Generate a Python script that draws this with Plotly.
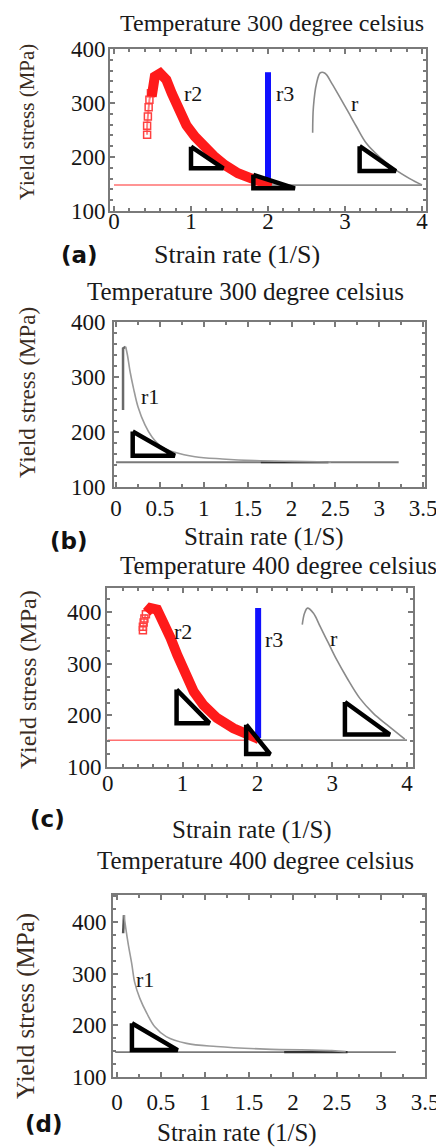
import plotly.graph_objects as go

W, H = 444, 1147
PAGE_OFFSET = 8  # the page body margin shifts the figure by this many pixels

# ---------------- data ----------------
# Panel (a) 300 C
a_r2_rise_x = [0.43, 0.43, 0.44, 0.45, 0.46, 0.48]
a_r2_rise_y = [241, 258, 275, 292, 306, 318]
a_r2_x = [0.49, 0.53, 0.60, 0.68, 0.75, 0.84, 0.94, 1.05, 1.18, 1.31, 1.44, 1.61, 1.79, 1.96, 2.05]
a_r2_y = [312, 349, 355, 343, 318, 287, 259, 238, 216, 200, 185, 170, 160, 151, 148]
a_r3_x = [2.0, 2.0]
a_r3_y = [157, 357]
a_r_x = [2.58, 2.59, 2.63, 2.68, 2.74, 2.83, 2.94, 3.04, 3.15, 3.28, 3.45, 3.63, 3.84, 4.0]
a_r_y = [245, 293, 336, 356, 355, 336, 309, 284, 256, 225, 200, 179, 160, 148]
a_red_base_x = [0.0, 1.9]
a_red_base_y = [148, 148]
a_gray_base_x = [2.0, 4.0]
a_gray_base_y = [148, 148]
a_tri = [([1.0, 1.0, 1.42, 1.0], [219, 179, 179, 219]),
         ([1.81, 1.81, 2.35, 1.81], [167, 142, 142, 167]),
         ([3.19, 3.19, 3.66, 3.19], [220, 174, 174, 220])]
a_lbl_x = [1.03, 2.22, 3.13]
a_lbl_y = [318, 318, 299]
a_lbl_t = ["r2", "r3", "r"]

# Panel (b) 300 C
b_rise_x = [0.08, 0.08, 0.11]
b_rise_y = [240, 352, 355]
b_r1_x = [0.11, 0.13, 0.16, 0.20, 0.25, 0.33, 0.41, 0.52, 0.67, 0.90, 1.21, 1.58, 2.0, 2.45]
b_r1_y = [355, 340, 310, 279, 246, 213, 191, 173, 163, 155, 151, 148, 146.5, 145.5]
b_base_x = [0.0, 3.22]
b_base_y = [145, 145]
b_dark_x = [1.65, 2.42]
b_dark_y = [145, 145]
b_tri = [([0.19, 0.19, 0.67, 0.19], [201, 157, 157, 201])]
b_lbl_x = [0.39]
b_lbl_y = [264]
b_lbl_t = ["r1"]

# Panel (c) 400 C
c_r2_rise_x = [0.47, 0.47, 0.48, 0.49, 0.51]
c_r2_rise_y = [365, 372, 380, 388, 396]
c_r2_x = [0.52, 0.57, 0.66, 0.75, 0.84, 0.93, 1.04, 1.15, 1.28, 1.46, 1.68, 1.91, 2.02]
c_r2_y = [400, 408, 405, 382, 350, 317, 279, 246, 220, 195, 175, 159, 154]
c_r3_x = [2.01, 2.01]
c_r3_y = [156, 408]
c_r_x = [2.60, 2.63, 2.67, 2.75, 2.84, 2.95, 3.06, 3.20, 3.37, 3.55, 3.73, 3.97]
c_r_y = [376, 398, 408, 398, 372, 340, 308, 272, 233, 204, 182, 154]
c_red_base_x = [0.0, 1.85]
c_red_base_y = [152, 152]
c_gray_base_x = [2.0, 4.0]
c_gray_base_y = [152, 152]
c_tri = [([0.92, 0.92, 1.36, 0.92], [250, 185, 185, 250]),
         ([1.85, 1.85, 2.17, 1.85], [182, 125, 125, 182]),
         ([3.17, 3.17, 3.77, 3.17], [226, 163, 163, 226])]
c_lbl_x = [1.0, 2.22, 3.02]
c_lbl_y = [363, 347, 350]
c_lbl_t = ["r2", "r3", "r"]

# Panel (d) 400 C
d_rise_x = [0.07, 0.08]
d_rise_y = [378, 413]
d_r1_x = [0.08, 0.10, 0.13, 0.17, 0.20, 0.26, 0.34, 0.43, 0.56, 0.79, 1.13, 1.69, 2.44, 2.60]
d_r1_y = [413, 388, 355, 317, 284, 252, 223, 197, 178, 165, 159, 154, 151, 149]
d_base_x = [-0.02, 3.17]
d_base_y = [148, 148]
d_dark_x = [1.9, 2.62]
d_dark_y = [148, 148]
d_tri = [([0.17, 0.17, 0.69, 0.17], [204, 152, 152, 204])]
d_lbl_x = [0.32]
d_lbl_y = [288]
d_lbl_t = ["r1"]

x_ticks_ab = [0, 1, 2, 3, 4]
x_ticks_bd = [0, 0.5, 1, 1.5, 2, 2.5, 3, 3.5]
x_ticktext_bd = ["0", "0.5", "1", "1.5", "2", "2.5", "3", "3.5"]
y_ticks = [100, 200, 300, 400]

titles = ["Temperature 300 degree celsius", "Temperature 300 degree celsius",
          "Temperature 400 degree celsius", "Temperature 400 degree celsius"]
panel_tags = ["(a)", "(b)", "(c)", "(d)"]
x_title = "Strain rate (1/S)"
y_title = "Yield stress (MPa)"

# ---------------- layout helpers ----------------
SERIF = "Liberation Serif, Times New Roman, serif"
RED = "#ff1a1a"
BLUE = "#1010ff"
GRAY = "#8a8a8a"


def px(x):
    return (x - PAGE_OFFSET) / W


def py(y):
    return 1 - (y - PAGE_OFFSET) / H


fig = go.Figure()

# pixel frames: (left, right, top, bottom), x-range, y-range, minor dticks, standoffs
panels = [
    dict(box=(110, 426, 49, 211), xr=[-0.052, 4.052], yr=[100, 400], xm=0.2, ym=20,
         xt=x_ticks_ab, xtt=[str(v) for v in x_ticks_ab], xso=-12, yso=-2),
    dict(box=(114, 425, 322, 487), xr=[-0.023, 3.52], yr=[100, 400], xm=0.25, ym=20,
         xt=x_ticks_bd, xtt=x_ticktext_bd, xso=-1, yso=2),
    dict(box=(107, 413, 588, 767), xr=[-0.01, 4.08], yr=[100, 447], xm=0.2, ym=25,
         xt=x_ticks_ab, xtt=[str(v) for v in x_ticks_ab], xso=-6, yso=-1),
    dict(box=(113, 425, 895, 1077), xr=[-0.045, 3.5], yr=[100, 452], xm=0.25, ym=25,
         xt=x_ticks_bd, xtt=x_ticktext_bd, xso=3, yso=0),
]

for i, p in enumerate(panels):
    l, r, t, b = p["box"]
    sfx = "" if i == 0 else str(i + 1)
    common = dict(showline=True, mirror="ticks", linecolor="#7a7a7a", linewidth=2,
                  ticks="inside", ticklen=5, tickcolor="#7a7a7a", tickwidth=1.5,
                  showgrid=False, zeroline=False, automargin=False,
                  tickfont=dict(family=SERIF, size=23, color="#151515"))
    fig.layout["xaxis" + sfx] = dict(
        domain=[px(l), px(r)], range=p["xr"], anchor="y" + sfx,
        tickmode="array", tickvals=p["xt"], ticktext=p["xtt"],
        minor=dict(dtick=p["xm"], tick0=0, ticks="inside", ticklen=3,
                   tickcolor="#7a7a7a", tickwidth=1.5),
        ticklabelstandoff=p["xso"], **common)
    fig.layout["yaxis" + sfx] = dict(
        domain=[py(b), py(t)], range=p["yr"], anchor="x" + sfx,
        tickmode="array", tickvals=y_ticks,
        minor=dict(dtick=p["ym"], tick0=100, ticks="inside", ticklen=3,
                   tickcolor="#7a7a7a", tickwidth=1.5),
        ticklabelstandoff=p["yso"], **common)


def add(x, y, ax, **kw):
    xa = "x" if ax == 1 else "x%d" % ax
    ya = "y" if ax == 1 else "y%d" % ax
    fig.add_trace(go.Scatter(x=x, y=y, xaxis=xa, yaxis=ya, showlegend=False,
                             hoverinfo="skip", **kw))


def tri(tris, ax):
    for tx, ty in tris:
        add(tx, ty, ax, mode="lines", line=dict(color="black", width=4.5))


def labels(lx, ly, lt, ax):
    xa = "x" if ax == 1 else "x%d" % ax
    ya = "y" if ax == 1 else "y%d" % ax
    for x, y, t in zip(lx, ly, lt):
        fig.add_annotation(x=x, y=y, xref=xa, yref=ya, text=t, showarrow=False,
                           xanchor="center", yanchor="middle",
                           font=dict(family=SERIF, size=22, color="#151515"))


# (a)
add(a_red_base_x, a_red_base_y, 1, mode="lines", line=dict(color="#ff7070", width=1.5))
add(a_gray_base_x, a_gray_base_y, 1, mode="lines", line=dict(color=GRAY, width=1.8))
add(a_r2_rise_x, a_r2_rise_y, 1, mode="lines+markers", line=dict(color="#ff8080", width=2),
    marker=dict(symbol="square-open", size=7, color="#ff4040", line=dict(width=1.5)))
add(a_r2_x, a_r2_y, 1, mode="lines", line=dict(color=RED, width=10))
add(a_r3_x, a_r3_y, 1, mode="lines", line=dict(color=BLUE, width=6))
add(a_r_x, a_r_y, 1, mode="lines", line=dict(color=GRAY, width=1.6, shape="spline"))
tri(a_tri, 1)
labels(a_lbl_x, a_lbl_y, a_lbl_t, 1)

# (b)
add(b_base_x, b_base_y, 2, mode="lines", line=dict(color="#7a7a7a", width=1.8))
add(b_dark_x, b_dark_y, 2, mode="lines", line=dict(color="#333333", width=2.2))
add(b_rise_x, b_rise_y, 2, mode="lines", line=dict(color="#6a6a6a", width=2.5))
add(b_r1_x, b_r1_y, 2, mode="lines", line=dict(color="#9a9a9a", width=1.6, shape="spline"))
tri(b_tri, 2)
labels(b_lbl_x, b_lbl_y, b_lbl_t, 2)

# (c)
add(c_red_base_x, c_red_base_y, 3, mode="lines", line=dict(color="#ff7070", width=1.5))
add(c_gray_base_x, c_gray_base_y, 3, mode="lines", line=dict(color=GRAY, width=1.8))
add(c_r2_rise_x, c_r2_rise_y, 3, mode="lines+markers", line=dict(color="#ff8080", width=2),
    marker=dict(symbol="square-open", size=7, color="#ff4040", line=dict(width=1.5)))
add(c_r2_x, c_r2_y, 3, mode="lines", line=dict(color=RED, width=10))
add(c_r3_x, c_r3_y, 3, mode="lines", line=dict(color=BLUE, width=6))
add(c_r_x, c_r_y, 3, mode="lines", line=dict(color=GRAY, width=1.6, shape="spline"))
tri(c_tri, 3)
labels(c_lbl_x, c_lbl_y, c_lbl_t, 3)

# (d)
add(d_base_x, d_base_y, 4, mode="lines", line=dict(color="#7a7a7a", width=1.8))
add(d_dark_x, d_dark_y, 4, mode="lines", line=dict(color="#333333", width=2.2))
add(d_rise_x, d_rise_y, 4, mode="lines", line=dict(color="#555555", width=2.5))
add(d_r1_x, d_r1_y, 4, mode="lines", line=dict(color="#9a9a9a", width=1.6, shape="spline"))
tri(d_tri, 4)
labels(d_lbl_x, d_lbl_y, d_lbl_t, 4)

# ---------------- texts in page coordinates ----------------
text_pos = [
    dict(title=(272, 23, 24), ytitle=(27, 122, 21), xtitle=(237, 255, 26), tag=(79, 255)),
    dict(title=(246, 292, 25), ytitle=(27, 393, 23), xtitle=(264, 537, 25), tag=(69, 541)),
    dict(title=(278, 565, 25), ytitle=(28, 680, 24), xtitle=(252, 830, 25), tag=(47, 819)),
    dict(title=(256, 860, 25), ytitle=(26, 1006, 25), xtitle=(237, 1133, 25), tag=(44, 1124)),
]
for i, tp in enumerate(text_pos):
    x, y, s = tp["title"]
    fig.add_annotation(x=px(x), y=py(y), xref="paper", yref="paper", text=titles[i],
                       showarrow=False, xanchor="center", yanchor="middle",
                       font=dict(family=SERIF, size=s, color="#1a1a1a"))
    x, y, s = tp["ytitle"]
    fig.add_annotation(x=px(x), y=py(y), xref="paper", yref="paper", text=y_title,
                       textangle=-90, showarrow=False, xanchor="center", yanchor="middle",
                       font=dict(family=SERIF, size=s, color="#3a2c22"))
    x, y, s = tp["xtitle"]
    fig.add_annotation(x=px(x), y=py(y), xref="paper", yref="paper", text=x_title,
                       showarrow=False, xanchor="center", yanchor="middle",
                       font=dict(family=SERIF, size=s, color="#1a1a1a"))
    x, y = tp["tag"]
    fig.add_annotation(x=px(x), y=py(y), xref="paper", yref="paper",
                       text="<b>%s</b>" % panel_tags[i], showarrow=False,
                       xanchor="center", yanchor="middle",
                       font=dict(family="DejaVu Sans", size=23, color="#111111"))

fig.update_layout(width=W, height=H, margin=dict(l=0, r=0, t=0, b=0, autoexpand=False),
                  paper_bgcolor="white", plot_bgcolor="white", showlegend=False)

fig.write_html("out.html")
